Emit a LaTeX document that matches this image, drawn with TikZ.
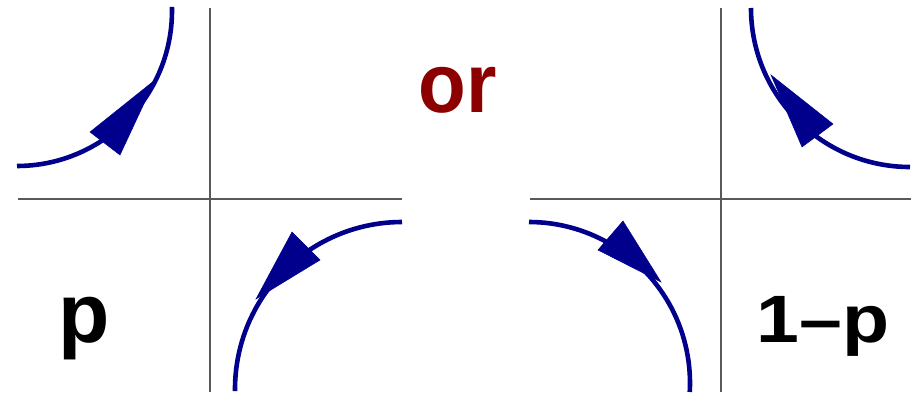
\documentclass[tikz,border=0pt]{standalone}
\usepackage{fontspec}
\usepackage{graphicx}
\setmainfont{Liberation Sans}
\definecolor{navy}{RGB}{0,0,140}
\definecolor{darkred}{RGB}{140,0,0}
\tikzset{
  curve/.style={draw=navy, line width=4.6pt},
  headtri/.style={fill=navy, draw=navy, line width=0.5pt, line join=miter},
  axisline/.style={draw=black!65, line width=1.1pt},
  biglabel/.style={inner sep=0pt, font=\bfseries\fontsize{84}{84}\selectfont},
  smalllabel/.style={inner sep=0pt, font=\bfseries\fontsize{67}{67}\selectfont},
}
\begin{document}
\begin{tikzpicture}[x=1pt,y=1pt]
\useasboundingbox (0,0) rectangle (911,392);
% axes, left panel
\draw[axisline] (210,0) -- (210,384);
\draw[axisline] (18,193) -- (402,193);
% axes, right panel
\draw[axisline] (721,0) -- (721,384);
\draw[axisline] (530,193) -- (911,193);
% curves
\draw[curve] (17,226) arc[start angle=270, end angle=361.5, radius=155];
\draw[curve] (402,170) arc[start angle=90, end angle=180.7, radius=167];
\draw[curve] (529,170) arc[start angle=90, end angle=-3.2, radius=161];
\draw[curve] (910,225) arc[start angle=270, end angle=180, radius=159];
% arrowheads
\fill[headtri] (155,312) -- (90,260) -- (120,237) -- cycle;
\fill[headtri] (256,93) -- (292,160) -- (320,132) -- cycle;
\fill[headtri] (661,110) -- (598,142) -- (623,171) -- cycle;
\fill[headtri] (771,317) -- (833,268) -- (802,245) -- cycle;
% labels
\node[biglabel, text=darkred, anchor=base] (or) at (458,280) {\scalebox{0.93}[1]{or}};
\node[biglabel, anchor=base] (p) at (84,50) {p};
\node[smalllabel, anchor=base] (q) at (823,50) {\scalebox{1.15}[1]{1–p}};
\end{tikzpicture}
\end{document}
